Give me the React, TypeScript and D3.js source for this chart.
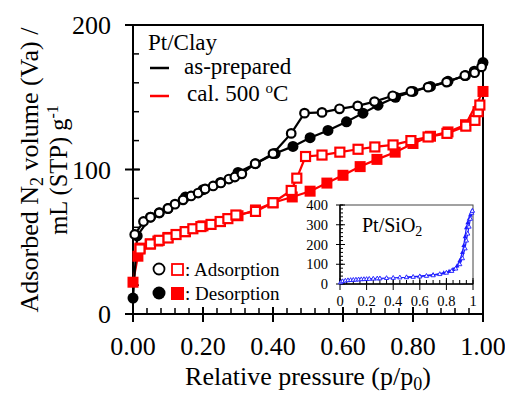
import React from "react";
import * as d3 from "d3";

// Pt/Clay isotherms: [p/p0, volume]
const blackAds: [number, number][] = [
  [0.005, 55], [0.03, 64], [0.05, 67], [0.075, 70], [0.1, 73], [0.12, 76], [0.143, 79],
  [0.166, 81.7], [0.186, 83.7], [0.206, 86.5], [0.229, 88.6], [0.251, 90.7], [0.274, 93.4],
  [0.291, 94.8], [0.311, 97], [0.349, 104], [0.4, 111], [0.452, 125], [0.49, 139],
  [0.54, 139.5], [0.59, 142], [0.642, 144], [0.69, 147], [0.742, 151], [0.794, 154],
  [0.843, 157], [0.896, 160.5], [0.948, 165], [0.976, 167], [0.996, 171],
];
const blackDes: [number, number][] = [
  [1.0, 174], [0.975, 168], [0.95, 165], [0.9, 161], [0.85, 157.5], [0.8, 154], [0.75, 150],
  [0.7, 144.5], [0.657, 139], [0.61, 133], [0.557, 127], [0.506, 122], [0.457, 116],
  [0.406, 111], [0.35, 104], [0.3, 98], [0.25, 91], [0.2, 86], [0.15, 81], [0.1, 73],
  [0.075, 70], [0.05, 67], [0.012, 54], [0.0, 11],
];
const redAds: [number, number][] = [
  [0.02, 45], [0.05, 48.5], [0.075, 51], [0.1, 52.6], [0.123, 55], [0.149, 57], [0.171, 59],
  [0.194, 60.5], [0.223, 62], [0.249, 64], [0.271, 66], [0.294, 68.5], [0.35, 71], [0.4, 77],
  [0.452, 85.5], [0.468, 94], [0.493, 109], [0.54, 110], [0.591, 112], [0.643, 114],
  [0.691, 115.6], [0.743, 117], [0.794, 120], [0.843, 122.5], [0.897, 125], [0.951, 130],
  [0.977, 134], [0.986, 140], [0.991, 144.6],
];
const redDes: [number, number][] = [
  [1.0, 154], [0.95, 131], [0.9, 126], [0.85, 123], [0.8, 118], [0.749, 112], [0.697, 107],
  [0.649, 102], [0.6, 96], [0.554, 90.6], [0.506, 85], [0.455, 81], [0.4, 77], [0.35, 72],
  [0.3, 68], [0.25, 64], [0.2, 61], [0.15, 57], [0.1, 53], [0.071, 50.5], [0.049, 48.4],
  [0.02, 45.6], [0.014, 40], [0.0, 22],
];

// Pt/SiO2 inset
const silicaAds: [number, number][] = [
  [0.005, 8], [0.02, 14], [0.04, 17], [0.06, 19], [0.08, 20], [0.1, 21], [0.12, 22],
  [0.14, 23], [0.16, 24], [0.18, 24.5], [0.2, 25], [0.22, 26], [0.25, 27], [0.28, 28],
  [0.3, 28.5], [0.35, 30], [0.4, 31], [0.45, 33], [0.5, 34], [0.55, 36], [0.6, 38],
  [0.65, 41], [0.7, 44], [0.75, 50], [0.8, 57], [0.84, 66], [0.87, 78], [0.9, 100],
  [0.92, 130], [0.94, 180], [0.95, 220], [0.96, 255], [0.97, 290], [0.98, 330],
  [0.99, 360], [0.995, 370],
];
const silicaDes: [number, number][] = [
  [0.995, 372], [0.98, 350], [0.97, 330], [0.96, 310], [0.95, 285], [0.94, 240],
  [0.93, 195], [0.92, 160], [0.9, 118], [0.88, 92], [0.85, 74], [0.82, 64], [0.78, 56],
  [0.7, 47], [0.6, 40], [0.5, 35],
];

const xTicks = [0, 0.2, 0.4, 0.6, 0.8, 1.0];
const yTicks = [0, 100, 200];
const insetXTicks = [0, 0.2, 0.4, 0.6, 0.8, 1];
const insetYTicks = [0, 100, 200, 300, 400];

const SERIF = { fontFamily: '"Liberation Serif", "Times New Roman", serif' };
const RED = "#ff0000";
const BLUE = "#1a1aff";

export default function App() {
  const x = d3.scaleLinear().domain([0, 1]).range([133, 483]);
  const y = d3.scaleLinear().domain([0, 200]).range([314, 25]);
  const ix = d3.scaleLinear().domain([0, 1]).range([340, 473]);
  const iy = d3.scaleLinear().domain([0, 400]).range([284, 205]);

  const line = d3.line<[number, number]>().x((d) => x(d[0])).y((d) => y(d[1]));
  const iline = d3.line<[number, number]>().x((d) => ix(d[0])).y((d) => iy(d[1]));

  const xMinor = d3.range(0, 1.0001, 0.04);
  const yMinor = d3.range(0, 200.01, 20);
  const ixMinor = d3.range(0, 1.0001, 0.05);
  const iyMinor = d3.range(0, 400.01, 20);

  const tri = (cx: number, cy: number, s: number) =>
    `M${cx},${cy - s}L${cx + s * 0.9},${cy + s * 0.6}L${cx - s * 0.9},${cy + s * 0.6}Z`;

  return (
    <svg width={505} height={394} style={{ position: "fixed", left: 0, top: 0, background: "#fff" }}>
      <rect width={505} height={394} fill="#fff" />

      {/* frame */}
      <rect x={133} y={25} width={350} height={289} fill="none" stroke="#000" strokeWidth={2} />

      {/* x ticks */}
      {xMinor.map((t, i) => (
        <line key={"xm" + i} x1={x(t)} x2={x(t)} y1={314} y2={308} stroke="#000" strokeWidth={1.5} />
      ))}
      {xTicks.map((t) => (
        <g key={"xt" + t}>
          <line x1={x(t)} x2={x(t)} y1={307} y2={322} stroke="#000" strokeWidth={2} />
          <text x={x(t)} y={355} textAnchor="middle" fontSize={26} style={SERIF}>
            {t.toFixed(2)}
          </text>
        </g>
      ))}

      {/* y ticks */}
      {yMinor.map((t, i) => (
        <line key={"ym" + i} x1={133} x2={139} y1={y(t)} y2={y(t)} stroke="#000" strokeWidth={1.5} />
      ))}
      {yTicks.map((t) => (
        <g key={"yt" + t}>
          <line x1={125} x2={140} y1={y(t)} y2={y(t)} stroke="#000" strokeWidth={2} />
          <text x={111} y={y(t) + 9} textAnchor="end" fontSize={26} style={SERIF}>
            {t}
          </text>
        </g>
      ))}

      {/* axis titles */}
      <text x={308} y={385} textAnchor="middle" fontSize={26} style={SERIF}>
        Relative pressure (p/p<tspan dy={5} fontSize={18}>0</tspan>
        <tspan dy={-5}>)</tspan>
      </text>
      <text transform="translate(38,170) rotate(-90)" textAnchor="middle" fontSize={26} style={SERIF}>
        Adsorbed N<tspan dy={5} fontSize={18}>2</tspan>
        <tspan dy={-5}> volume (Va) /</tspan>
      </text>
      <text transform="translate(67,170) rotate(-90)" textAnchor="middle" fontSize={24.5} style={SERIF}>
        mL (STP) g<tspan dy={-9} fontSize={16}>-1</tspan>
      </text>

      {/* series lines */}
      <path d={line(redAds) || ""} fill="none" stroke={RED} strokeWidth={2.2} />
      <path d={line(redDes) || ""} fill="none" stroke={RED} strokeWidth={2.2} />
      <path d={line(blackAds) || ""} fill="none" stroke="#000" strokeWidth={2.2} />
      <path d={line(blackDes) || ""} fill="none" stroke="#000" strokeWidth={2.2} />

      {redDes.map((d, i) => (
        <rect key={"rd" + i} x={x(d[0]) - 5.5} y={y(d[1]) - 5.5} width={11} height={11} fill={RED} />
      ))}
      {redAds.map((d, i) => (
        <rect key={"ra" + i} x={x(d[0]) - 4.5} y={y(d[1]) - 4.5} width={9} height={9} fill="#fff" stroke={RED} strokeWidth={2.2} />
      ))}
      {blackDes.map((d, i) => (
        <circle key={"bd" + i} cx={x(d[0])} cy={y(d[1])} r={5.5} fill="#000" />
      ))}
      {blackAds.map((d, i) => (
        <circle key={"ba" + i} cx={x(d[0])} cy={y(d[1])} r={4.3} fill="#fff" stroke="#000" strokeWidth={2.2} />
      ))}

      {/* top legend */}
      <text x={148} y={50} fontSize={23} style={SERIF}>Pt/Clay</text>
      <line x1={150} x2={169} y1={68} y2={68} stroke="#000" strokeWidth={2.5} />
      <text x={184} y={74} fontSize={23} style={SERIF}>as-prepared</text>
      <line x1={150} x2={169} y1={96} y2={96} stroke={RED} strokeWidth={2.5} />
      <text x={187} y={101} fontSize={23} style={SERIF}>
        cal. 500 <tspan dy={-8} fontSize={15}>o</tspan>
        <tspan dy={8}>C</tspan>
      </text>

      {/* bottom legend */}
      <circle cx={159} cy={269} r={5.5} fill="#fff" stroke="#000" strokeWidth={1.8} />
      <rect x={172} y={264} width={11} height={11} fill="#fff" stroke={RED} strokeWidth={1.8} />
      <text x={185} y={276} fontSize={19} style={SERIF}>: Adsorption</text>
      <circle cx={159} cy={293} r={6.5} fill="#000" />
      <rect x={171} y={287} width={13} height={13} fill={RED} />
      <text x={185} y={300} fontSize={19} style={SERIF}>: Desorption</text>

      {/* inset */}
      <rect x={340} y={205} width={133} height={79} fill="#fff" stroke="#444" strokeWidth={1} />
      {ixMinor.map((t, i) => (
        <line key={"ixm" + i} x1={ix(t)} x2={ix(t)} y1={284} y2={280} stroke="#000" strokeWidth={1} />
      ))}
      {insetXTicks.map((t) => (
        <g key={"ixt" + t}>
          <line x1={ix(t)} x2={ix(t)} y1={278} y2={290} stroke="#000" strokeWidth={1} />
          <text x={ix(t)} y={306} textAnchor="middle" fontSize={14.5} style={SERIF}>
            {t}
          </text>
        </g>
      ))}
      {iyMinor.map((t, i) => (
        <line key={"iym" + i} x1={340} x2={343} y1={iy(t)} y2={iy(t)} stroke="#000" strokeWidth={1} />
      ))}
      {insetYTicks.map((t) => (
        <g key={"iyt" + t}>
          <line x1={336} x2={345} y1={iy(t)} y2={iy(t)} stroke="#000" strokeWidth={1} />
          <text x={328} y={iy(t) + 5} textAnchor="end" fontSize={14.5} style={SERIF}>
            {t}
          </text>
        </g>
      ))}
      <line x1={340} x2={340} y1={205} y2={284} stroke="#000" strokeWidth={1.5} />
      <line x1={340} x2={473} y1={284} y2={284} stroke="#000" strokeWidth={1.5} />
      <path d={iline(silicaAds) || ""} fill="none" stroke={BLUE} strokeWidth={1.2} />
      <path d={iline(silicaDes) || ""} fill="none" stroke={BLUE} strokeWidth={1.2} />
      {silicaDes.map((d, i) => (
        <path key={"sd" + i} d={tri(ix(d[0]), iy(d[1]), 2.6)} fill={BLUE} />
      ))}
      {silicaAds.map((d, i) => (
        <path key={"sa" + i} d={tri(ix(d[0]), iy(d[1]), 2.4)} fill="#fff" stroke={BLUE} strokeWidth={0.9} />
      ))}
      <text x={362} y={232} fontSize={20} style={SERIF}>
        Pt/SiO<tspan dy={4} fontSize={14}>2</tspan>
      </text>
    </svg>
  );
}
